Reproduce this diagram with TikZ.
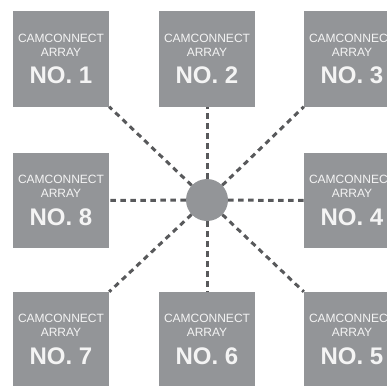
\documentclass[tikz,border=0pt]{standalone}
\usepackage{fontspec}
\setmainfont{Liberation Sans}
\definecolor{boxgrey}{HTML}{939598}
\definecolor{linegrey}{HTML}{58595B}
\definecolor{textgrey}{HTML}{F4F4F4}

\begin{document}
\begin{tikzpicture}[x=1pt,y=-1pt,
  array/.style={rectangle,fill=boxgrey,minimum width=96pt,minimum height=95pt,inner sep=0pt,
    text=textgrey,align=center,font=\fontsize{12}{14}\selectfont},
  hub/.style={circle,fill=boxgrey,minimum size=42pt,inner sep=0pt},
  link/.style={linegrey,line width=3pt,dash pattern=on 5.5pt off 4.5pt}]

%SPACING
\useasboundingbox (0,0) rectangle (387,385);
%SPACING

\node[array](a1) at (61,59) {CAMCONNECT\\ARRAY\\[10pt]{\fontsize{24}{24}\selectfont\bfseries NO. 1}};
\node[array](a2) at (207,59) {CAMCONNECT\\ARRAY\\[10pt]{\fontsize{24}{24}\selectfont\bfseries NO. 2}};
\node[array](a3) at (352,59) {CAMCONNECT\\ARRAY\\[10pt]{\fontsize{24}{24}\selectfont\bfseries NO. 3}};
\node[array](a4) at (352,200.5) {CAMCONNECT\\ARRAY\\[10pt]{\fontsize{24}{24}\selectfont\bfseries NO. 4}};
\node[array](a5) at (352,339.5) {CAMCONNECT\\ARRAY\\[10pt]{\fontsize{24}{24}\selectfont\bfseries NO. 5}};
\node[array](a6) at (207,339.5) {CAMCONNECT\\ARRAY\\[10pt]{\fontsize{24}{24}\selectfont\bfseries NO. 6}};
\node[array](a7) at (61,339.5) {CAMCONNECT\\ARRAY\\[10pt]{\fontsize{24}{24}\selectfont\bfseries NO. 7}};
\node[array](a8) at (61,200.5) {CAMCONNECT\\ARRAY\\[10pt]{\fontsize{24}{24}\selectfont\bfseries NO. 8}};

\node[hub](c) at (207,200) {};

\draw[link] (c) -- (a1.south east);
\draw[link] (c) -- (a2.south);
\draw[link] (c) -- (a3.south west);
\draw[link] (c) -- (a4.west);
\draw[link] (c) -- (a5.north west);
\draw[link] (c) -- (a6.north);
\draw[link] (c) -- (a7.north east);
\draw[link] (c) -- (a8.east);

\end{tikzpicture}
\end{document}
